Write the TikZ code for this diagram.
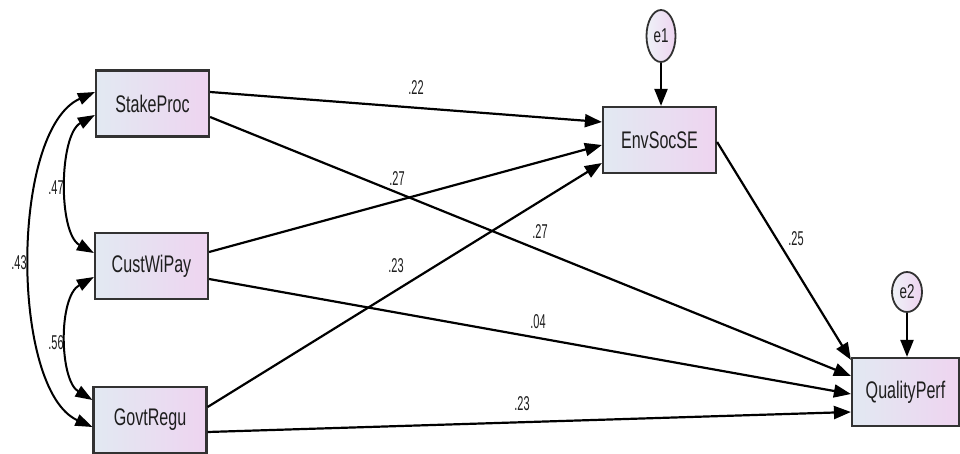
\documentclass[tikz,border=0pt]{standalone}
\usepackage{fontspec}
\setmainfont{Liberation Sans}
\newfontfamily\varfont[FakeStretch=0.67]{Liberation Sans}
\newfontfamily\coeffont[FakeStretch=0.55]{Liberation Sans}
\usetikzlibrary{arrows.meta,shapes.geometric}

\definecolor{boxleft}{RGB}{226,233,242}
\definecolor{boxright}{RGB}{238,212,240}
\definecolor{edgegray}{RGB}{50,50,50}
\definecolor{txt}{RGB}{30,30,30}

\begin{document}
\begin{tikzpicture}[x=1pt,y=-1pt,
  var/.style={draw=edgegray, line width=2.2pt, left color=boxleft, right color=boxright,
    minimum width=113pt, minimum height=66pt, inner sep=0pt, text=txt, font=\varfont\fontsize{24}{24}\selectfont},
  err/.style={ellipse, draw=edgegray, line width=1.8pt, left color=boxleft!60!white, right color=boxright,
    inner sep=0pt, text=txt, font=\varfont\fontsize{20}{20}\selectfont},
  path/.style={line width=2.2pt, draw=black, -{Triangle[length=17pt,width=13pt]}},
  cov/.style={line width=2pt, draw=black, {Triangle[length=17pt,width=12pt]}-{Triangle[length=17pt,width=12pt]}},
  coef/.style={text=txt, font=\coeffont\fontsize{20}{20}\selectfont, inner sep=0pt}
]
\useasboundingbox (0,0) rectangle (960,454);
\fill[white] (0,0) rectangle (960,454);

% observed variables
\node[var] (SP) at (152.5,103.5) {StakeProc};
\node[var] (CW) at (151.5,266) {CustWiPay};
\node[var] (GR) at (150,420) {GovtRegu};
\node[var] (ES) at (659.5,140) {EnvSocSE};
\node[var, minimum width=107pt, minimum height=68pt] (QP) at (905.5,392) {QualityPerf};

% error terms
\node[err, minimum width=29pt, minimum height=52pt] (e1) at (661,36) {e1};
\node[err, minimum width=30pt, minimum height=40pt] (e2) at (907,292) {e2};

% regression paths
\draw[path] ([yshift=11.5pt]SP.east) -- ([yshift=18pt]ES.west);
\draw[path] ([yshift=-13.5pt]SP.east) -- ([yshift=16pt]QP.west);
\draw[path] ([yshift=14pt]CW.east) -- ([yshift=-5pt]ES.west);
\draw[path] ([yshift=-13pt]CW.east) -- ([yshift=-2pt]QP.west);
\draw[path] ([yshift=13pt]GR.east) -- ([yshift=-23pt]ES.west);
\draw[path] ([yshift=-12pt]GR.east) -- ([yshift=-20pt]QP.west);
\draw[path] ([yshift=-2pt]ES.east) -- ([yshift=-3pt]QP.north west);
\draw[path] (e1.south) -- (e1.south |- ES.north);
\draw[path] (e2.south) -- (e2.south |- QP.north);

% covariances
\draw[cov] ([yshift=-11.5pt]SP.west) .. controls +(-36,20) and +(-36,-20) .. ([yshift=13pt]CW.west);
\draw[cov] ([yshift=-11pt]CW.west) .. controls +(-36,20) and +(-33,-20) .. ([yshift=20pt]GR.west);
\draw[cov] ([yshift=11.5pt]SP.west) .. controls +(-85,38) and +(-82,-37) .. ([yshift=-7pt]GR.west);

% coefficients
\node[coef] (c1) at (416,88) {.22};
\node[coef] (c2) at (397,179) {.27};
\node[coef] (c3) at (540,232) {.27};
\node[coef] (c4) at (396,266) {.23};
\node[coef] (c5) at (538,322) {.04};
\node[coef] (c6) at (522,404) {.23};
\node[coef] (c7) at (796,239) {.25};
\node[coef] (c8) at (56,188) {.47};
\node[coef] (c9) at (19,263) {.43};
\node[coef] (c10) at (56,343) {.56};
\end{tikzpicture}
\end{document}
